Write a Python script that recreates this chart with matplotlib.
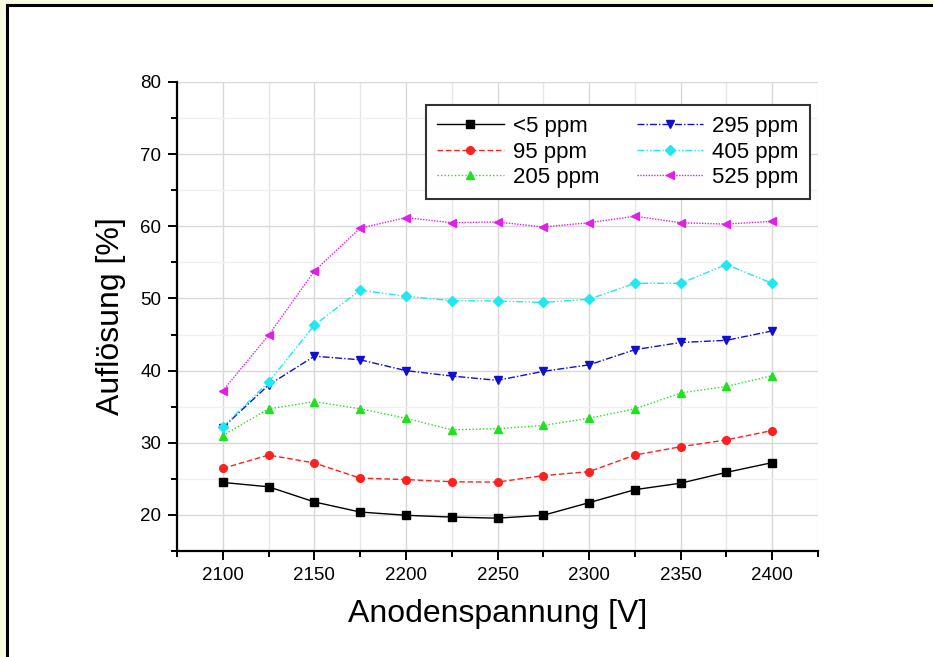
import matplotlib
matplotlib.use('Agg')
import matplotlib.pyplot as plt
from matplotlib.ticker import MultipleLocator
from matplotlib.patches import Rectangle
from matplotlib.lines import Line2D

plt.rcParams['font.family'] = ['Liberation Sans', 'DejaVu Sans']

# Anodenspannung in V
voltage = [2100, 2125, 2150, 2175, 2200, 2225, 2250, 2275, 2300, 2325, 2350, 2375, 2400]

# Aufloesung in % je Konzentration
res_5 = [24.5, 23.9, 21.8, 20.4, 19.95, 19.7, 19.55, 19.95, 21.7, 23.5, 24.4, 25.9, 27.25]
res_95 = [26.45, 28.3, 27.2, 25.1, 24.9, 24.6, 24.55, 25.45, 26.0, 28.3, 29.45, 30.4, 31.7]
res_205 = [31.0, 34.7, 35.7, 34.7, 33.4, 31.8, 31.95, 32.4, 33.4, 34.7, 36.9, 37.8, 39.3]
res_295 = [32.1, 38.0, 42.0, 41.5, 40.0, 39.25, 38.65, 39.9, 40.8, 42.9, 43.9, 44.2, 45.5]
res_405 = [32.2, 38.4, 46.3, 51.15, 50.3, 49.7, 49.65, 49.45, 49.9, 52.1, 52.1, 54.7, 52.1]
res_525 = [37.2, 44.9, 53.8, 59.75, 61.2, 60.5, 60.6, 59.9, 60.5, 61.4, 60.5, 60.3, 60.7]

labels = ['<5 ppm', '95 ppm', '205 ppm', '295 ppm', '405 ppm', '525 ppm']

fig = plt.figure(figsize=(9.33, 6.57), dpi=100)
fig.patch.set_facecolor('#f8fbdf')

# white page with black edge on the top and left side
fw, fh = 933.0, 657.0
fig.patches.append(Rectangle((7 / fw, 0), 1, 1 - 5 / fh, transform=fig.transFigure,
                             facecolor='white', edgecolor='none', zorder=-5))
fig.lines.append(Line2D([7 / fw, 1], [1 - 5 / fh, 1 - 5 / fh], transform=fig.transFigure,
                        color='black', lw=2.2, zorder=5))
fig.lines.append(Line2D([7 / fw, 7 / fw], [0, 1 - 5 / fh], transform=fig.transFigure,
                        color='black', lw=2.2, zorder=5))

ax = fig.add_axes([177 / fw, 106 / fh, 641 / fw, 469 / fh])
ax.set_zorder(1)
ax.set_facecolor('white')

series = [
    (res_5, 'black', '-', 's'),
    (res_95, '#ff2020', (0, (4, 2)), 'o'),
    (res_205, '#20e020', (0, (1, 1.5)), '^'),
    (res_295, '#1010d0', (0, (5, 1.5, 1, 1.5)), 'v'),
    (res_405, '#20e8f0', (0, (5, 1.5, 1, 1.5, 1, 1.5)), 'D'),
    (res_525, '#e020e8', (0, (1, 1)), '<'),
]

for (vals, color, ls, mk), lab in zip(series, labels):
    ms = 4.6 if mk == 'D' else 5.5
    ax.plot(voltage, vals, color=color, linestyle=ls, linewidth=1.0,
            marker=mk, markersize=ms, markerfacecolor=color,
            markeredgecolor=color, label=lab, zorder=3)

ax.set_xlim(2075, 2425)
ax.set_ylim(15, 80)
ax.xaxis.set_major_locator(MultipleLocator(50))
ax.xaxis.set_minor_locator(MultipleLocator(25))
ax.yaxis.set_major_locator(MultipleLocator(10))
ax.yaxis.set_minor_locator(MultipleLocator(5))

ax.grid(which='major', axis='both', color='#d8d8d8', linewidth=1.0, zorder=0)
ax.grid(which='minor', axis='y', color='#f0f0f0', linewidth=1.0, zorder=0)
ax.grid(which='minor', axis='x', color='#e6e6e6', linewidth=1.0, zorder=0)

for side in ['top', 'right']:
    ax.spines[side].set_visible(False)
for side in ['left', 'bottom']:
    ax.spines[side].set_linewidth(1.6)

ax.tick_params(which='major', direction='out', length=6.5, width=1.4, labelsize=13.5, pad=5)
ax.tick_params(which='minor', direction='out', length=4, width=1.4)

ax.set_xlabel('Anodenspannung [V]', fontsize=23, labelpad=11)
ax.set_ylabel('Auflösung [%]', fontsize=23, labelpad=10)

leg = ax.legend(ncol=2, loc='upper right', bbox_to_anchor=(0.9875, 0.951),
                borderaxespad=0, fontsize=16, numpoints=1, handlelength=3.0,
                fancybox=False, framealpha=1, edgecolor='#333333',
                columnspacing=1.7, labelspacing=0.2, handletextpad=0.4,
                borderpad=0.5)
leg.get_frame().set_linewidth(1.5)

fig.savefig('out.png', dpi=100, facecolor=fig.get_facecolor())
